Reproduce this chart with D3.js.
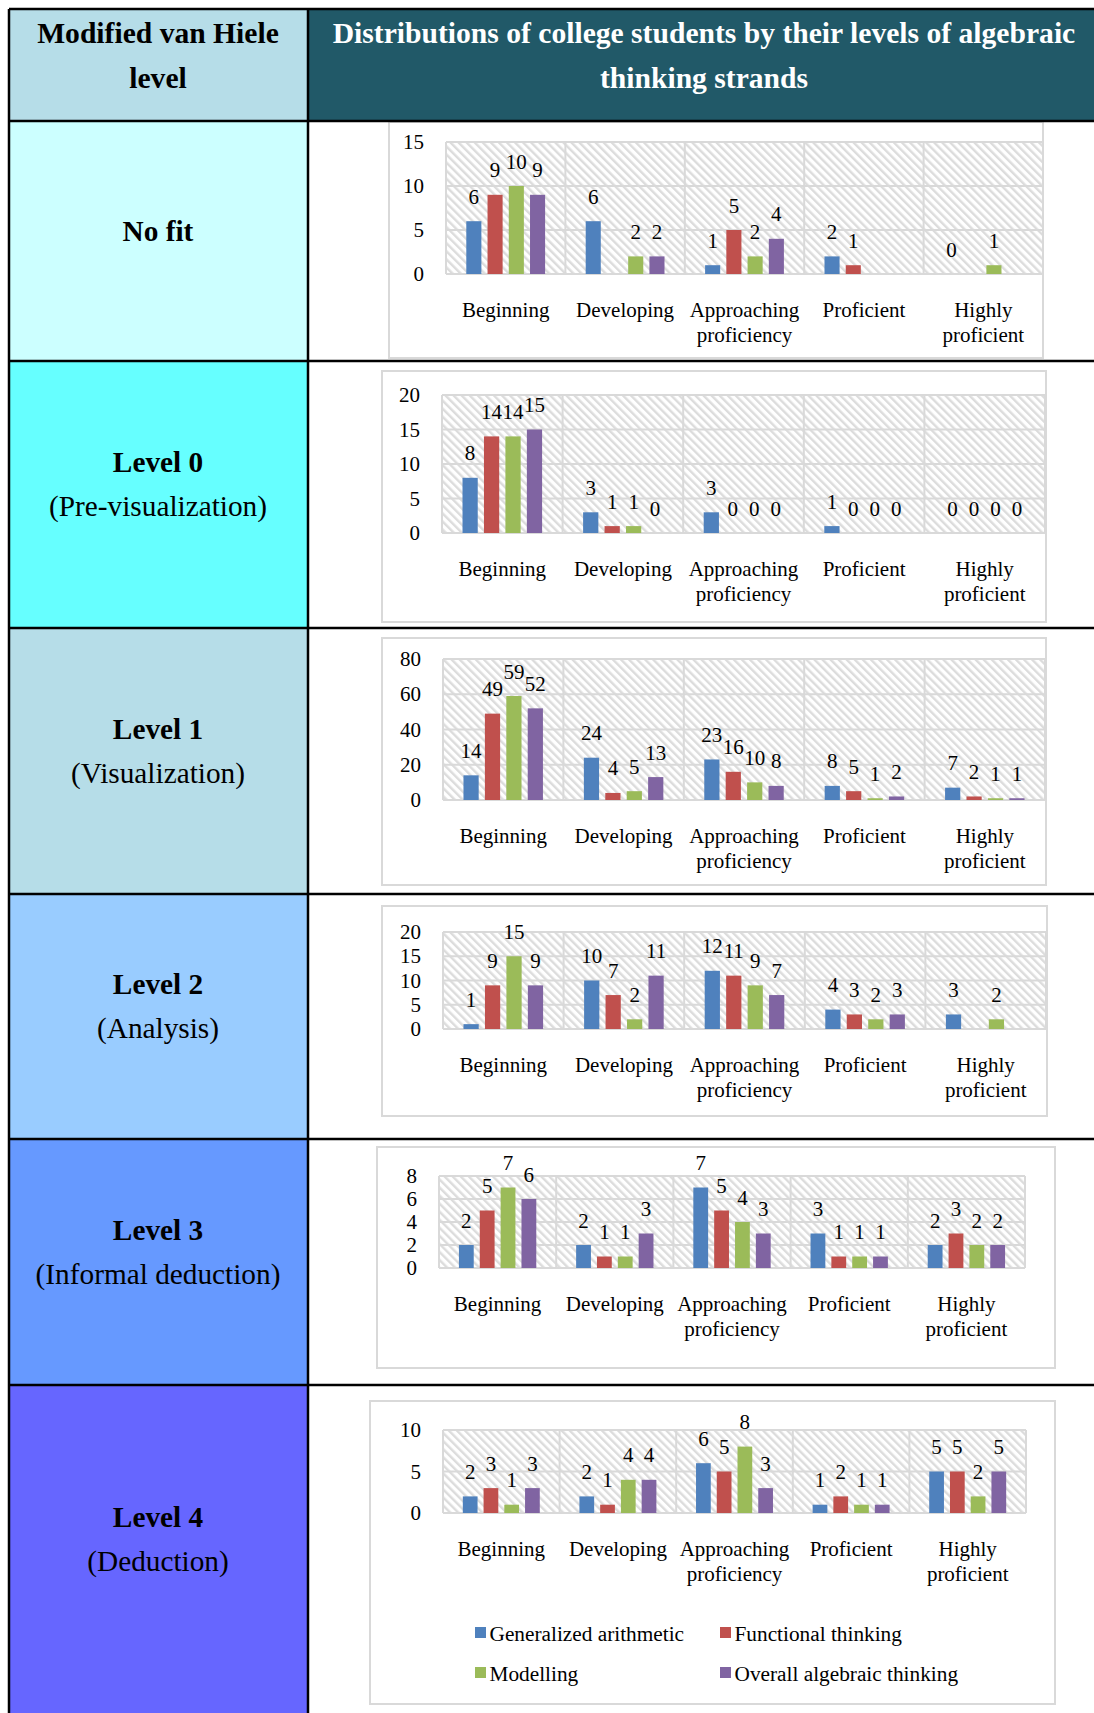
<!DOCTYPE html>
<html>
<head>
<meta charset="utf-8">
<script src="https://cdn.jsdelivr.net/npm/d3@7"></script>
<style>
  html, body { margin: 0; padding: 0; background: #fff; }
  svg { display: block; }
  text { font-family: "Liberation Serif", "Times New Roman", serif; }
</style>
</head>
<body>
<script>
// ---- data ----
const categories = [["Beginning"], ["Developing"], ["Approaching", "proficiency"], ["Proficient"], ["Highly", "proficient"]];
const seriesNames = ["Generalized arithmetic", "Functional thinking", "Modelling", "Overall algebraic thinking"];
const seriesColors = ["#4F81BD", "#C0504D", "#9BBB59", "#8064A2"];

const rowTitles = ["No fit", "Level 0", "Level 1", "Level 2", "Level 3", "Level 4"];
const rowSubtitles = ["", "(Pre-visualization)", "(Visualization)", "(Analysis)", "(Informal deduction)", "(Deduction)"];
const headerLeft = ["Modified van Hiele", "level"];
const headerRight = ["Distributions of college students by their levels of algebraic", "thinking strands"];

// values per series (GA, FT, Modelling, Overall) across the five categories; null = not shown
const noFitValues = [[6, 6, 1, 2, 0], [9, null, 5, 1, null], [10, 2, 2, null, 1], [9, 2, 4, null, null]];
const level0Values = [[8, 3, 3, 1, 0], [14, 1, 0, 0, 0], [14, 1, 0, 0, 0], [15, 0, 0, 0, 0]];
const level1Values = [[14, 24, 23, 8, 7], [49, 4, 16, 5, 2], [59, 5, 10, 1, 1], [52, 13, 8, 2, 1]];
const level2Values = [[1, 10, 12, 4, 3], [9, 7, 11, 3, null], [15, 2, 9, 2, 2], [9, 11, 7, 3, null]];
const level3Values = [[2, 2, 7, 3, 2], [5, 1, 5, 1, 3], [7, 1, 4, 1, 2], [6, 3, 3, 1, 2]];
const level4Values = [[2, 2, 6, 1, 5], [3, 1, 5, 2, 5], [1, 4, 8, 1, 2], [3, 4, 3, 1, 5]];

const noFitTicks = [0, 5, 10, 15];
const level0Ticks = [0, 5, 10, 15, 20];
const level1Ticks = [0, 20, 40, 60, 80];
const level2Ticks = [0, 5, 10, 15, 20];
const level3Ticks = [0, 2, 4, 6, 8];
const level4Ticks = [0, 5, 10];

// ---- layout ----
const W = 1094, H = 1713;
const tableLeft = 9, tableTop = 9, colDiv = 308;
const rowLines = [121, 361, 628, 894, 1139, 1385];
const rowBottoms = [361, 628, 894, 1139, 1385, 1713];
const rowFills = ["#CCFFFF", "#66FFFF", "#B6DDE8", "#99CCFF", "#6699FF", "#6666FF"];

const charts = [
  { values: noFitValues, ticks: noFitTicks, box: [389, 122, 1043, 358], plot: [446, 142, 1043, 274] },
  { values: level0Values, ticks: level0Ticks, box: [382, 371, 1046, 622], plot: [442, 395, 1045, 533] },
  { values: level1Values, ticks: level1Ticks, box: [382, 638, 1046, 885], plot: [443, 659, 1045, 800] },
  { values: level2Values, ticks: level2Ticks, box: [382, 906, 1047, 1116], plot: [443, 932, 1046, 1029] },
  { values: level3Values, ticks: level3Ticks, box: [377, 1147, 1055, 1368], plot: [439, 1176, 1025, 1268] },
  { values: level4Values, ticks: level4Ticks, box: [370, 1401, 1055, 1704], plot: [443, 1430, 1026, 1513] }
];

const svg = d3.select("body").append("svg").attr("width", W).attr("height", H);
svg.append("rect").attr("width", W).attr("height", H).attr("fill", "#fff");

// diagonal hatch used as plot-area fill
const defs = svg.append("defs");
const pat = defs.append("pattern")
  .attr("id", "hatch").attr("patternUnits", "userSpaceOnUse")
  .attr("width", 5.7).attr("height", 5.7)
  .attr("patternTransform", "rotate(-45)");
pat.append("rect").attr("width", 5.7).attr("height", 5.7).attr("fill", "#ffffff");
pat.append("rect").attr("width", 2.4).attr("height", 5.7).attr("fill", "#dcdcdc");

// ---- table cells ----
svg.append("rect").attr("x", tableLeft).attr("y", tableTop).attr("width", colDiv - tableLeft).attr("height", rowLines[0] - tableTop).attr("fill", "#B6DDE8");
svg.append("rect").attr("x", colDiv).attr("y", tableTop).attr("width", W - colDiv).attr("height", rowLines[0] - tableTop).attr("fill", "#215968");

rowTitles.forEach((t, i) => {
  const y0 = rowLines[i], y1 = rowBottoms[i];
  svg.append("rect").attr("x", tableLeft).attr("y", y0).attr("width", colDiv - tableLeft).attr("height", y1 - y0).attr("fill", rowFills[i]);
});

// header text
const hdr = svg.append("g").attr("font-weight", "bold").attr("font-size", 29.6).attr("text-anchor", "middle");
headerLeft.forEach((s, i) => hdr.append("text").attr("x", 158).attr("y", 43 + i * 45).attr("fill", "#000").text(s));
headerRight.forEach((s, i) => hdr.append("text").attr("x", 704).attr("y", 43 + i * 45).attr("fill", "#fff").text(s));

// row labels
rowTitles.forEach((t, i) => {
  const mid = (rowLines[i] + rowBottoms[i]) / 2 - 10.5;
  const g = svg.append("g").attr("text-anchor", "middle").attr("font-size", 29.3).attr("fill", "#000");
  if (rowSubtitles[i]) {
    g.append("text").attr("x", 158).attr("y", mid - 22 + 10).attr("font-weight", "bold").text(t);
    g.append("text").attr("x", 158).attr("y", mid + 22 + 10).text(rowSubtitles[i]);
  } else {
    g.append("text").attr("x", 158).attr("y", mid + 10).attr("font-weight", "bold").text(t);
  }
});

// ---- charts ----
charts.forEach((c, ci) => {
  const [bx0, by0, bx1, by1] = c.box;
  const [px0, py0, px1, py1] = c.plot;
  const g = svg.append("g");

  g.append("rect").attr("x", bx0).attr("y", by0).attr("width", bx1 - bx0).attr("height", by1 - by0)
    .attr("fill", "#fff").attr("stroke", "#d9d9d9").attr("stroke-width", 2);

  const x0 = d3.scaleBand().domain(categories.map(d => d.join(" "))).range([px0, px1]).padding(0);
  const groupW = x0.bandwidth() * 0.66;
  const x1 = d3.scaleBand().domain(d3.range(seriesNames.length)).range([-groupW / 2, groupW / 2]).paddingInner(0.29).paddingOuter(0);
  const y = d3.scaleLinear().domain([0, d3.max(c.ticks)]).range([py1, py0]);

  // hatched plot area
  g.append("rect").attr("x", px0).attr("y", py0).attr("width", px1 - px0).attr("height", py1 - py0).attr("fill", "url(#hatch)");

  // horizontal gridlines
  g.append("g").selectAll("line").data(c.ticks).join("line")
    .attr("x1", px0).attr("x2", px1).attr("y1", d => y(d)).attr("y2", d => y(d))
    .attr("stroke", "#d9d9d9").attr("stroke-width", 2);

  // vertical category separators
  const seps = x0.domain().map(d => x0(d)).concat([px1]);
  g.append("g").selectAll("line").data(seps).join("line")
    .attr("x1", d => d).attr("x2", d => d).attr("y1", py0).attr("y2", py1)
    .attr("stroke", "#d9d9d9").attr("stroke-width", 2);

  // y axis labels
  const yAxis = d3.axisLeft(y).tickValues(c.ticks).tickSize(0).tickPadding(22);
  const ya = g.append("g").attr("transform", `translate(${px0},0)`).call(yAxis);
  ya.select(".domain").remove();
  ya.selectAll("text").attr("font-size", 21).attr("fill", "#000").attr("font-family", "Liberation Serif, Times New Roman, serif");

  // bars and value labels
  const cells = [];
  c.values.forEach((arr, si) => arr.forEach((v, ki) => {
    if (v !== null) cells.push({ si, key: categories[ki].join(" "), v });
  }));
  g.append("g").selectAll("rect").data(cells).join("rect")
    .attr("x", d => x0(d.key) + x0.bandwidth() / 2 + x1(d.si))
    .attr("y", d => y(d.v))
    .attr("width", x1.bandwidth())
    .attr("height", d => y(0) - y(d.v))
    .attr("fill", d => seriesColors[d.si]);

  g.append("g").attr("text-anchor", "middle").attr("font-size", 21).attr("fill", "#000")
    .selectAll("text").data(cells).join("text")
    .attr("x", d => x0(d.key) + x0.bandwidth() / 2 + x1(d.si) + x1.bandwidth() / 2)
    .attr("y", d => y(d.v) - 17.5)
    .text(d => d.v);

  // category labels
  const cl = g.append("g").attr("text-anchor", "middle").attr("font-size", 21).attr("fill", "#000");
  categories.forEach(lines => {
    const cx = x0(lines.join(" ")) + x0.bandwidth() / 2;
    lines.forEach((s, li) => cl.append("text").attr("x", cx).attr("y", py1 + 42.5 + li * 25).text(s));
  });

  // legend under the last chart
  if (ci === charts.length - 1) {
    const lx = [475, 720], ly = [1627, 1667];
    const lg = g.append("g").attr("font-size", 21.3).attr("fill", "#000");
    seriesNames.forEach((name, i) => {
      const col = i % 2, row = Math.floor(i / 2);
      lg.append("rect").attr("x", lx[col]).attr("y", ly[row]).attr("width", 11).attr("height", 11).attr("fill", seriesColors[i]);
      lg.append("text").attr("x", lx[col] + 14.5).attr("y", ly[row] + 13.5).text(name);
    });
  }
});

// ---- table borders ----
const bd = svg.append("g").attr("stroke", "#000").attr("stroke-width", 2.5);
bd.append("line").attr("x1", tableLeft).attr("x2", W).attr("y1", tableTop).attr("y2", tableTop);
rowLines.forEach(yv => bd.append("line").attr("x1", tableLeft).attr("x2", W).attr("y1", yv).attr("y2", yv));
bd.append("line").attr("x1", tableLeft).attr("x2", tableLeft).attr("y1", tableTop).attr("y2", H);
bd.append("line").attr("x1", colDiv).attr("x2", colDiv).attr("y1", tableTop).attr("y2", H);
</script>
</body>
</html>
